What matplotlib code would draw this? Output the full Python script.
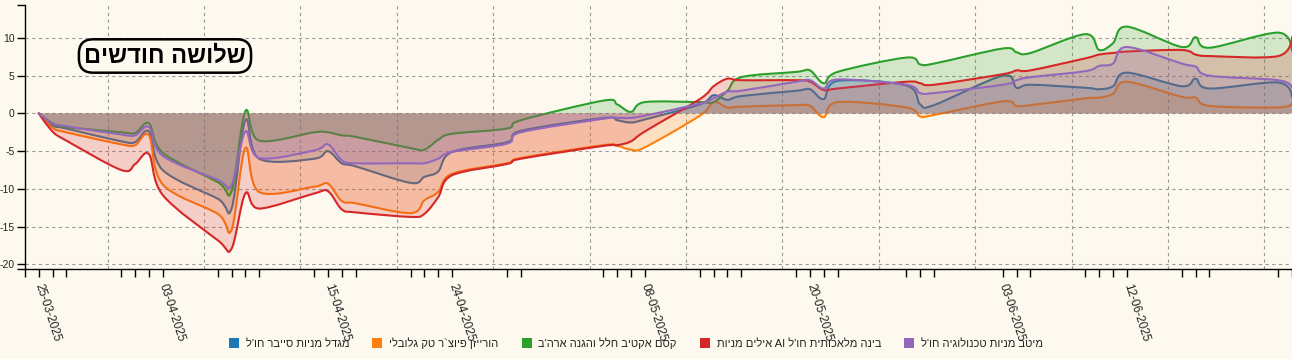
import matplotlib
matplotlib.use('Agg')

import re
import numpy as np
import matplotlib.pyplot as plt
import matplotlib.dates as mdates
from matplotlib.path import Path
from matplotlib.patches import PathPatch, Patch

plt.rcParams['font.family'] = ['Liberation Sans', 'DejaVu Sans']
plt.rcParams['axes.unicode_minus'] = False

# trading days shown on the chart
dates = ['2025-03-25', '2025-03-26', '2025-03-27', '2025-03-31', '2025-04-01', '2025-04-02',
         '2025-04-03', '2025-04-07', '2025-04-08', '2025-04-09', '2025-04-10', '2025-04-14',
         '2025-04-15', '2025-04-16', '2025-04-17', '2025-04-21', '2025-04-22', '2025-04-23',
         '2025-04-24', '2025-04-28', '2025-04-29', '2025-05-05', '2025-05-06', '2025-05-07',
         '2025-05-08', '2025-05-12', '2025-05-13', '2025-05-14', '2025-05-15', '2025-05-19',
         '2025-05-20', '2025-05-21', '2025-05-22', '2025-05-27', '2025-05-28', '2025-05-29',
         '2025-06-03', '2025-06-04', '2025-06-05', '2025-06-09', '2025-06-10', '2025-06-11',
         '2025-06-12', '2025-06-16', '2025-06-17', '2025-06-18', '2025-06-23', '2025-06-24']

# cumulative return (%) per fund
migdal_cyber = [0, -1.6, -2.0, -3.7, -3.8, -2.4, -7.5, -11.3, -12.6, -0.9, -6.0, -6.0,
                -5.0, -6.6, -7.0, -9.2, -8.4, -7.7, -5.1, -3.8, -2.3, -0.6, -0.9, -1.2,
                -0.8, 1.2, 2.4, 1.8, 2.3, 3.0, 3.2, 1.9, 4.3, 3.7, 1.2, 1.1,
                5.0, 3.4, 3.8, 3.4, 3.2, 3.6, 5.4, 3.6, 4.6, 3.3, 4.1, 2.2]
horizon_tech = [0, -1.9, -2.5, -4.1, -4.2, -2.9, -9.4, -13.3, -15.4, -4.6, -10.4, -9.7,
                -9.3, -11.6, -11.9, -13.2, -11.5, -10.4, -8.0, -6.6, -5.9, -4.2, -4.3, -4.8,
                -4.5, -0.3, 1.5, 0.8, 0.9, 1.1, 1.0, -0.5, 1.5, 0.8, -0.4, -0.2,
                1.6, 1.0, 1.1, 2.0, 2.1, 2.6, 4.2, 2.2, 2.1, 1.0, 0.8, 1.3]
kesem_space = [0, -1.3, -1.8, -2.5, -2.6, -1.3, -5.2, -9.1, -10.3, 0.3, -3.6, -2.5,
               -2.5, -2.9, -3.1, -4.6, -4.8, -3.5, -2.7, -2.0, -0.9, 1.7, 1.2, 0.2,
               1.5, 1.5, 1.5, 3.0, 4.8, 5.5, 5.7, 4.0, 5.5, 7.4, 6.5, 6.6,
               8.6, 8.1, 8.0, 10.5, 8.4, 9.3, 11.5, 8.8, 10.1, 8.7, 10.7, 8.3]
ayalim_ai = [0, -2.4, -3.6, -7.5, -6.7, -5.4, -10.8, -16.8, -17.9, -10.6, -12.6, -10.6,
             -10.3, -12.7, -13.1, -13.7, -13.3, -11.1, -8.2, -6.7, -6.0, -4.3, -4.2, -3.7,
             -2.4, 1.9, 3.6, 4.6, 4.4, 4.4, 4.2, 3.1, 3.3, 4.2, 4.0, 3.8,
             5.2, 5.7, 5.7, 7.3, 7.8, 8.0, 8.2, 8.4, 7.8, 7.6, 7.6, 10.1]
meitav_tech = [0, -1.3, -1.7, -2.8, -2.9, -1.8, -5.6, -8.8, -9.5, -2.4, -5.9, -4.9,
               -4.1, -6.2, -6.6, -6.6, -6.6, -6.0, -5.1, -4.0, -2.5, -0.7, -0.6, -0.6,
               -0.3, 1.3, 2.0, 2.9, 3.0, 4.2, 4.4, 3.3, 4.5, 3.8, 2.7, 2.7,
               3.8, 4.4, 4.8, 5.6, 6.3, 6.6, 8.8, 6.6, 6.2, 5.0, 4.4, 3.4]

fund_names = ["מגדל מניות סייבר חו'ל",
              "הורייזן פיוצ`ר טק גלובלי",
              "קסם אקטיב חלל והגנה ארה'ב",
              "אילים מניות AI בינה מלאכותית חו'ל",
              "מיטב מניות טכנולוגיה חו'ל"]
title_text = "שלושה חודשים"

colors = ['#1f77b4', '#ff7f0e', '#2ca02c', '#d62728', '#9467bd']
bg = '#fdf9ef'


def visual(s):
    # matplotlib draws left to right: reverse the hebrew runs, keep latin runs in place
    res = []
    for p in re.split(r'([A-Za-z0-9]+)', s):
        if re.match(r'^[A-Za-z0-9]+$', p):
            res.append(p)
        else:
            lead = p[:len(p) - len(p.lstrip())]
            trail = p[len(p.rstrip()):]
            res.append(lead + p.strip()[::-1] + trail)
    return ''.join(res)


def cardinal_path(x, y):
    # same construction as d3.curveCardinal (tension 0)
    k = 1.0 / 6
    n = len(x)
    verts = [(x[0], y[0])]
    codes = [Path.MOVETO]
    for i in range(n - 1):
        if i == 0:
            c1 = (x[0], y[0])
        else:
            c1 = (x[i] + k * (x[i + 1] - x[i - 1]), y[i] + k * (y[i + 1] - y[i - 1]))
        if i == n - 2:
            c2 = (x[i + 1], y[i + 1])
        else:
            c2 = (x[i + 1] - k * (x[i + 2] - x[i]), y[i + 1] - k * (y[i + 2] - y[i]))
        verts += [c1, c2, (x[i + 1], y[i + 1])]
        codes += [Path.CURVE4] * 3
    return verts, codes


xd = mdates.date2num(np.array(dates, dtype='datetime64[D]'))
all_series = [migdal_cyber, horizon_tech, kesem_space, ayalim_ai, meitav_tech]

fig = plt.figure(figsize=(12.92, 3.59), dpi=100, facecolor=bg)
ax = fig.add_axes([25 / 1292, 1 - 269 / 359, 1 - 25 / 1292, (269 - 4.7) / 359])
ax.set_facecolor(bg)

for vals, c in zip(all_series, colors):
    verts, codes = cardinal_path(list(xd), list(vals))
    area_v = verts + [(xd[-1], 0), (xd[0], 0), verts[0]]
    area_c = codes + [Path.LINETO, Path.LINETO, Path.CLOSEPOLY]
    ax.add_patch(PathPatch(Path(area_v, area_c), facecolor=c, alpha=0.2, edgecolor='none', zorder=2))
    ax.add_patch(PathPatch(Path(verts, codes), facecolor='none', edgecolor=c, lw=1.5, zorder=2,
                           capstyle='round', joinstyle='round'))

x_start = mdates.date2num(np.datetime64('2025-03-24'))
ax.set_xlim(x_start, xd[-1])
ax.set_ylim(-20.6, 14.4)

# a tick on every trading day, a date label on every sixth one
labels = [''] + [mdates.num2date(d).strftime('%d-%m-%Y') if i % 6 == 0 else ''
                 for i, d in enumerate(xd)]
ax.set_xticks([x_start] + list(xd))
ax.set_xticklabels(labels, rotation=-72, ha='left', va='center', rotation_mode='anchor',
                   fontsize=8.5, color='#222')
ax.tick_params(axis='x', which='major', length=6, width=1, pad=5, color='black')

weeks = mdates.date2num(np.arange(np.datetime64('2025-03-30'), np.datetime64('2025-06-25'),
                                  np.timedelta64(7, 'D')))
ax.set_xticks(weeks, minor=True)
ax.tick_params(axis='x', which='minor', length=0)
ax.grid(True, which='minor', axis='x', color='#9a9a9a', lw=0.8, linestyle=(0, (3, 3)), zorder=1)

ax.set_yticks([-20, -15, -10, -5, 0, 5, 10])
ax.set_yticks([-20.6, 14.4], minor=True)
ax.tick_params(axis='y', which='both', length=6, width=1, labelsize=7.5, pad=1.5, color='black',
               labelcolor='#222')
ax.grid(True, which='major', axis='y', color='#9a9a9a', lw=0.8, linestyle=(0, (3, 3)), zorder=1)
ax.set_axisbelow(True)

for s in ['top', 'right']:
    ax.spines[s].set_visible(False)
for s in ['left', 'bottom']:
    ax.spines[s].set_color('black')
    ax.spines[s].set_linewidth(1)

fig.text(165 / 1292, 1 - 56 / 359, visual(title_text), fontsize=17, fontweight='bold', ha='center',
         va='center',
         bbox=dict(boxstyle='round,pad=0.22,rounding_size=0.6', fc=bg, ec='black', lw=1.8))

handles = [Patch(facecolor=c, edgecolor='none') for c in colors]
fig.legend(handles, [visual(n) for n in fund_names], ncol=5, loc='center',
           bbox_to_anchor=(636 / 1292, 1 - 343 / 359), frameon=False, fontsize=8,
           handlelength=0.9, handleheight=0.9, handletextpad=0.6, columnspacing=2.1,
           labelcolor='#222')

fig.savefig('out.png', dpi=100, facecolor=bg)
